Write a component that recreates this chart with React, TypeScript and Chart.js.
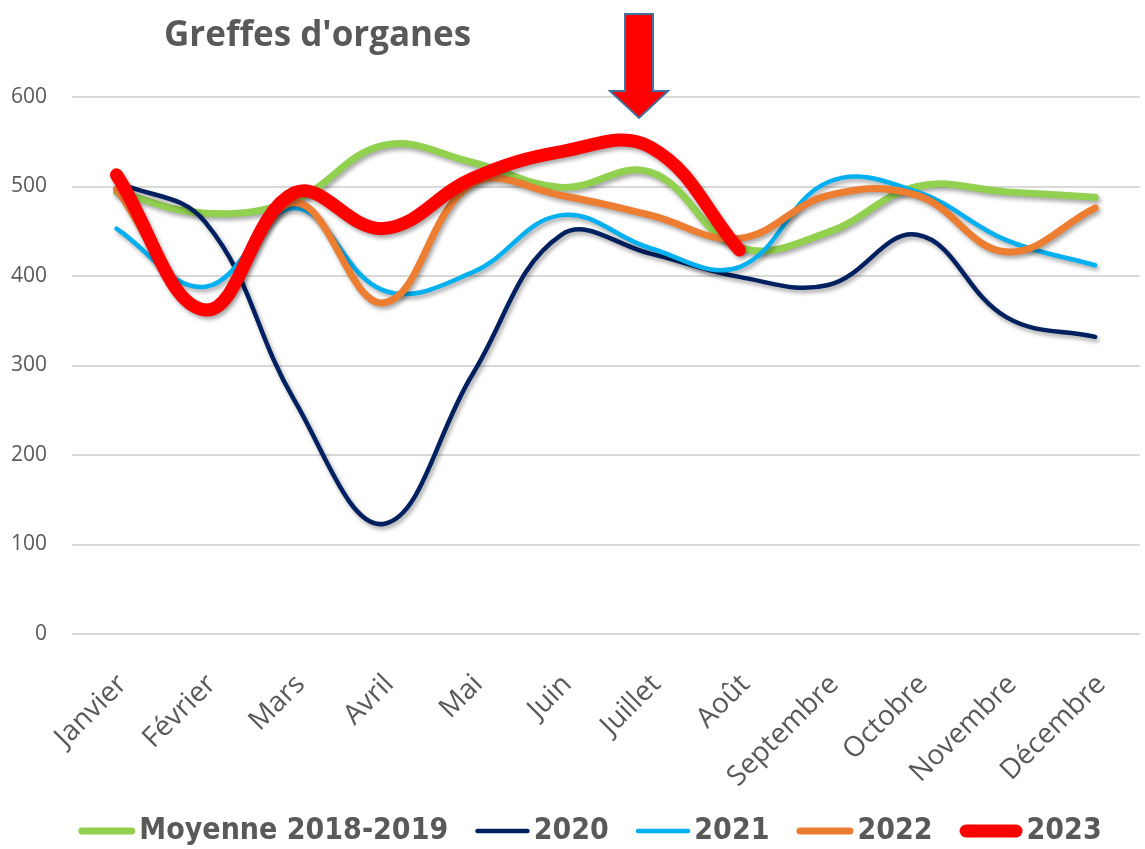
import React, { useEffect, useRef } from 'react';
import { Chart, registerables } from 'chart.js';

Chart.register(...registerables);

const months = ['Janvier', 'Février', 'Mars', 'Avril', 'Mai', 'Juin', 'Juillet', 'Août', 'Septembre', 'Octobre', 'Novembre', 'Décembre'];
const moyenne20182019 = [494, 470, 485, 546, 527, 499, 516, 432, 449, 500, 494, 488];
const serie2020 = [505, 460, 261, 123, 290, 446, 425, 399, 390, 446, 354, 332];
const serie2021 = [453, 388, 476, 384, 404, 468, 431, 410, 505, 494, 440, 412];
const serie2022 = [497, 365, 482, 370, 503, 490, 468, 442, 490, 490, 427, 476];
const serie2023 = [513, 362, 493, 453, 509, 539, 544, 429];
const seriesLabels = ['Moyenne 2018-2019', '2020', '2021', '2022', '2023'];
const chartTitle = "Greffes d'organes";

const GREY = '#595959';
const W = 1153;
const H = 849;

const shadowPlugin = {
  id: 'lineShadow',
  beforeDatasetDraw(chart: any) {
    const ctx = chart.ctx;
    ctx.save();
    ctx.shadowColor = 'rgba(0,0,0,0.35)';
    ctx.shadowBlur = 4;
    ctx.shadowOffsetX = 2;
    ctx.shadowOffsetY = 3;
  },
  afterDatasetDraw(chart: any) {
    chart.ctx.restore();
  },
};

const decorPlugin = {
  id: 'decor',
  afterDraw(chart: any) {
    const ctx = chart.ctx as CanvasRenderingContext2D;
    // Title
    ctx.save();
    ctx.fillStyle = GREY;
    ctx.font = 'bold 35px "Open Sans"';
    ctx.textBaseline = 'alphabetic';
    ctx.textAlign = 'left';
    ctx.fillText(chartTitle, 164, 46);
    ctx.restore();

    // Arrow annotation
    ctx.save();
    ctx.beginPath();
    ctx.moveTo(625, 14);
    ctx.lineTo(653, 14);
    ctx.lineTo(653, 91);
    ctx.lineTo(668, 91);
    ctx.lineTo(639, 118);
    ctx.lineTo(610, 91);
    ctx.lineTo(625, 91);
    ctx.closePath();
    ctx.fillStyle = '#FF0000';
    ctx.fill();
    ctx.lineWidth = 2;
    ctx.strokeStyle = '#41719C';
    ctx.lineJoin = 'miter';
    ctx.stroke();
    ctx.restore();

    // Legend
    ctx.save();
    ctx.font = 'bold 30px "DejaVu Sans Condensed", "DejaVu Sans"';
    ctx.textBaseline = 'middle';
    ctx.textAlign = 'left';
    const lineLen = 50;
    const gapText = 4;
    const gapItem = 27;
    const items = chart.data.datasets.map((ds: any) => ({
      label: ds.label,
      color: ds.borderColor,
      width: ds.borderWidth,
      textW: ctx.measureText(ds.label).width,
    }));
    let total = 0;
    items.forEach((it: any, i: number) => {
      total += it.width + lineLen + gapText + it.textW;
      if (i < items.length - 1) total += gapItem;
    });
    let x = 590 - total / 2;
    const y = 831;
    items.forEach((it: any) => {
      const x0 = x + it.width / 2;
      ctx.beginPath();
      ctx.lineCap = 'round';
      ctx.lineWidth = it.width;
      ctx.strokeStyle = it.color;
      ctx.moveTo(x0, y);
      ctx.lineTo(x0 + lineLen, y);
      ctx.stroke();
      const tx = x0 + lineLen + it.width / 2 + gapText;
      ctx.fillStyle = GREY;
      ctx.fillText(it.label, tx, y);
      x = tx + it.textW + gapItem;
    });
    ctx.restore();
  },
};

function makeDataset(label: string, data: number[], color: string, width: number, order: number) {
  return {
    label,
    data,
    borderColor: color,
    backgroundColor: color,
    borderWidth: width,
    borderCapStyle: 'round' as const,
    borderJoinStyle: 'round' as const,
    pointRadius: 0,
    pointHoverRadius: 0,
    tension: 0.4,
    fill: false,
    order,
  };
}

export default function App() {
  const canvasRef = useRef<HTMLCanvasElement | null>(null);

  useEffect(() => {
    document.body.style.overflow = 'hidden';
    const canvas = canvasRef.current;
    if (!canvas) return;
    const chart = new Chart(canvas, {
      type: 'line',
      data: {
        labels: months,
        datasets: [
          makeDataset(seriesLabels[0], moyenne20182019, '#92D050', 7, 5),
          makeDataset(seriesLabels[1], serie2020, '#002060', 4.5, 4),
          makeDataset(seriesLabels[2], serie2021, '#00B0F0', 4.5, 3),
          makeDataset(seriesLabels[3], serie2022, '#ED7D31', 7, 2),
          makeDataset(seriesLabels[4], serie2023, '#FF0000', 13, 1),
        ],
      },
      options: {
        responsive: false,
        animation: false,
        devicePixelRatio: 1,
        layout: { padding: { top: 97, left: 0, right: 0, bottom: 0 } },
        plugins: {
          legend: { display: false },
          title: { display: false },
          tooltip: { enabled: false },
        },
        scales: {
          x: {
            offset: true,
            grid: { display: false, drawTicks: false },
            border: { display: false },
            ticks: {
              autoSkip: false,
              minRotation: 45,
              maxRotation: 45,
              padding: 34,
              labelOffset: 6,
              color: GREY,
              font: { family: '"Open Sans"', size: 28 },
            },
            afterFit: (scale: any) => {
              scale.height = H - 634;
            },
          },
          y: {
            min: 0,
            max: 600,
            grid: { color: '#D9D9D9', lineWidth: 2, drawTicks: false },
            border: { display: false },
            ticks: {
              stepSize: 100,
              padding: 25,
              color: GREY,
              font: { family: '"Open Sans"', size: 21 },
            },
            afterFit: (scale: any) => {
              scale.width = 72;
            },
          },
        },
      },
      plugins: [shadowPlugin, decorPlugin],
    });
    return () => chart.destroy();
  }, []);

  return (
    <div style={{ position: 'fixed', left: 0, top: 0, width: W, height: H, background: '#fff' }}>
      <canvas ref={canvasRef} width={W} height={H} style={{ width: W, height: H, display: 'block' }} />
    </div>
  );
}
